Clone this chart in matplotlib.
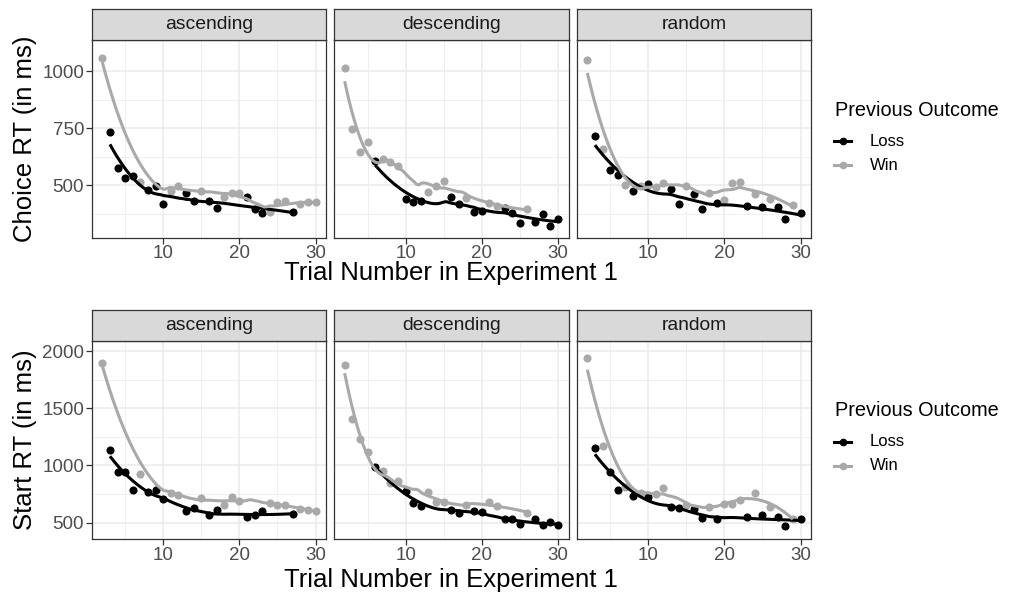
import numpy as np
import matplotlib
matplotlib.use('Agg')
import matplotlib.pyplot as plt
from matplotlib.lines import Line2D

plt.rcParams['font.family'] = ['Liberation Sans', 'DejaVu Sans']

# trial numbers that followed a loss / a win, per condition
asc_loss_trials = [3, 4, 5, 6, 8, 9, 10, 13, 14, 16, 17, 21, 22, 23, 27]
asc_win_trials = [2, 7, 11, 12, 15, 18, 19, 20, 24, 25, 26, 28, 29, 30]
desc_loss_trials = [6, 10, 11, 12, 16, 17, 19, 20, 23, 24, 25, 27, 28, 29, 30]
desc_win_trials = [2, 3, 4, 5, 7, 8, 9, 13, 14, 15, 18, 21, 22, 26]
rand_loss_trials = [3, 5, 6, 8, 10, 13, 14, 16, 17, 19, 23, 25, 27, 28, 30]
rand_win_trials = [2, 4, 7, 9, 11, 12, 15, 18, 20, 21, 22, 24, 26, 29]

# mean choice RT (ms)
choice_asc_loss = [731, 574, 529, 541, 478, 497, 415, 463, 432, 428, 399, 446, 394, 378, 382]
choice_asc_win = [1056, 515, 475, 496, 475, 449, 463, 463, 382, 424, 429, 416, 426, 424]
choice_desc_loss = [604, 440, 427, 428, 449, 416, 382, 385, 401, 379, 335, 337, 372, 321, 350]
choice_desc_win = [1015, 746, 647, 688, 613, 600, 585, 468, 497, 519, 441, 420, 410, 393]
choice_rand_loss = [713, 566, 544, 472, 503, 482, 416, 462, 396, 419, 409, 403, 403, 350, 377]
choice_rand_win = [1049, 657, 500, 497, 493, 507, 497, 463, 434, 507, 512, 460, 437, 412]

# mean start RT (ms)
start_asc_loss = [1138, 945, 945, 785, 770, 785, 707, 601, 629, 563, 615, 549, 569, 601, 572]
start_asc_win = [1891, 928, 759, 744, 713, 655, 721, 693, 670, 655, 655, 621, 615, 601]
start_desc_loss = [989, 779, 672, 644, 615, 586, 598, 592, 529, 534, 491, 529, 477, 506, 477]
start_desc_win = [1880, 1405, 1230, 1118, 951, 851, 865, 764, 684, 678, 655, 684, 644, 586]
start_rand_loss = [1152, 940, 785, 730, 721, 641, 626, 621, 543, 529, 549, 569, 549, 468, 534]
start_rand_win = [1943, 1173, 816, 760, 750, 799, 655, 635, 664, 664, 698, 759, 641, 534]

conditions = ['ascending', 'descending', 'random']
LOSS_COL = 'black'
WIN_COL = '#A9A9A9'
LOSS_SPAN = 0.75
WIN_SPAN = 0.6


def loess(x, y, xs, span):
    """Local quadratic fit with tricube weights"""
    x = np.asarray(x, float)
    y = np.asarray(y, float)
    q = int(np.floor(len(x) * span))
    out = []
    for x0 in xs:
        d = np.abs(x - x0)
        h = np.sort(d)[q - 1] * 1.0001
        w = np.clip(1 - (d / h) ** 3, 0, None) ** 3
        X = np.column_stack([np.ones_like(x), x - x0, (x - x0) ** 2])
        Wm = np.diag(w)
        b = np.linalg.lstsq(X.T @ Wm @ X, X.T @ Wm @ y, rcond=None)[0]
        out.append(b[0])
    return np.array(out)


rows = [
    ('Choice RT (in ms)', [500, 750, 1000], [375, 625, 875], (269, 1136),
     [(choice_asc_loss, choice_asc_win), (choice_desc_loss, choice_desc_win),
      (choice_rand_loss, choice_rand_win)]),
    ('Start RT (in ms)', [500, 1000, 1500, 2000], [750, 1250, 1750], (355, 2090),
     [(start_asc_loss, start_asc_win), (start_desc_loss, start_desc_win),
      (start_rand_loss, start_rand_win)]),
]
trials = [(asc_loss_trials, asc_win_trials), (desc_loss_trials, desc_win_trials),
          (rand_loss_trials, rand_win_trials)]

W, H = 1009, 596
fig = plt.figure(figsize=(W / 100, H / 100), dpi=100)

col_left = [91.7, 334.0, 576.7]
panel_w = 234.5
row_top = [40.0, 340.7]
panel_h = [197.7, 198.6]
strip_h = 31.0
title_y = [273, 580]
legend_y = [110, 411]


def fx(px):
    return px / W


def fy(py):
    return 1 - py / H


for r, (ylab, yt, ymt, ylim, series) in enumerate(rows):
    for c in range(3):
        left = col_left[c]
        top = row_top[r]
        ax = fig.add_axes([fx(left), fy(top + panel_h[r]), panel_w / W, panel_h[r] / H])
        loss_t, win_t = trials[c]
        loss_v, win_v = series[c]

        ax.scatter(loss_t, loss_v, s=34, color=LOSS_COL, zorder=3, linewidths=0)
        ax.scatter(win_t, win_v, s=34, color=WIN_COL, zorder=3, linewidths=0)
        for t, v, col, sp in [(loss_t, loss_v, LOSS_COL, LOSS_SPAN),
                              (win_t, win_v, WIN_COL, WIN_SPAN)]:
            xs = np.linspace(min(t), max(t), 80)
            ax.plot(xs, loess(t, v, xs, sp), color=col, lw=2.2, zorder=4,
                    solid_capstyle='butt')

        ax.set_xlim(0.6, 31.4)
        ax.set_ylim(*ylim)
        ax.set_xticks([10, 20, 30])
        ax.set_xticks([5, 15, 25], minor=True)
        ax.set_yticks(yt)
        ax.set_yticks(ymt, minor=True)
        ax.grid(True, which='major', color='#EBEBEB', lw=1.1)
        ax.grid(True, which='minor', color='#EBEBEB', lw=0.55)
        ax.set_axisbelow(True)
        for spine in ax.spines.values():
            spine.set_color('#333333')
            spine.set_linewidth(0.9)
        ax.tick_params(which='minor', length=0)
        ax.tick_params(which='major', length=4, width=0.9, color='#333333',
                       labelsize=13.5, labelcolor='#4D4D4D', pad=1.5)
        if c > 0:
            ax.tick_params(axis='y', length=0, labelleft=False)

        # facet strip
        sax = fig.add_axes([fx(left), fy(top), panel_w / W, strip_h / H])
        sax.set_facecolor('#D9D9D9')
        sax.set_xticks([])
        sax.set_yticks([])
        for spine in sax.spines.values():
            spine.set_color('#333333')
            spine.set_linewidth(0.9)
        sax.text(0.5, 0.5, conditions[c], ha='center', va='center',
                 fontsize=13.9, color='#1A1A1A', transform=sax.transAxes)

    fig.text(fx(25), fy(row_top[r] + panel_h[r] / 2), ylab, rotation=90,
             ha='center', va='center', fontsize=18.5)
    fig.text(fx(451), fy(title_y[r]), 'Trial Number in Experiment 1',
             ha='center', va='center', fontsize=18.5)

    # legend, drawn by hand to match the ggplot guide layout
    ly = legend_y[r]
    fig.text(fx(835), fy(ly), 'Previous Outcome', ha='left', va='center',
             fontsize=14.3)
    for k, (lab, col) in enumerate([('Loss', LOSS_COL), ('Win', WIN_COL)]):
        yy = fy(ly + 31 + 24 * k)
        fig.add_artist(Line2D([fx(834), fx(851)], [yy, yy], color=col, lw=2.2,
                              transform=fig.transFigure))
        fig.add_artist(Line2D([fx(842.5)], [yy], color=col, marker='o',
                              markersize=4.5, lw=0, transform=fig.transFigure))
        fig.text(fx(870), yy, lab, ha='left', va='center', fontsize=12)

fig.savefig('out.png', dpi=100)
